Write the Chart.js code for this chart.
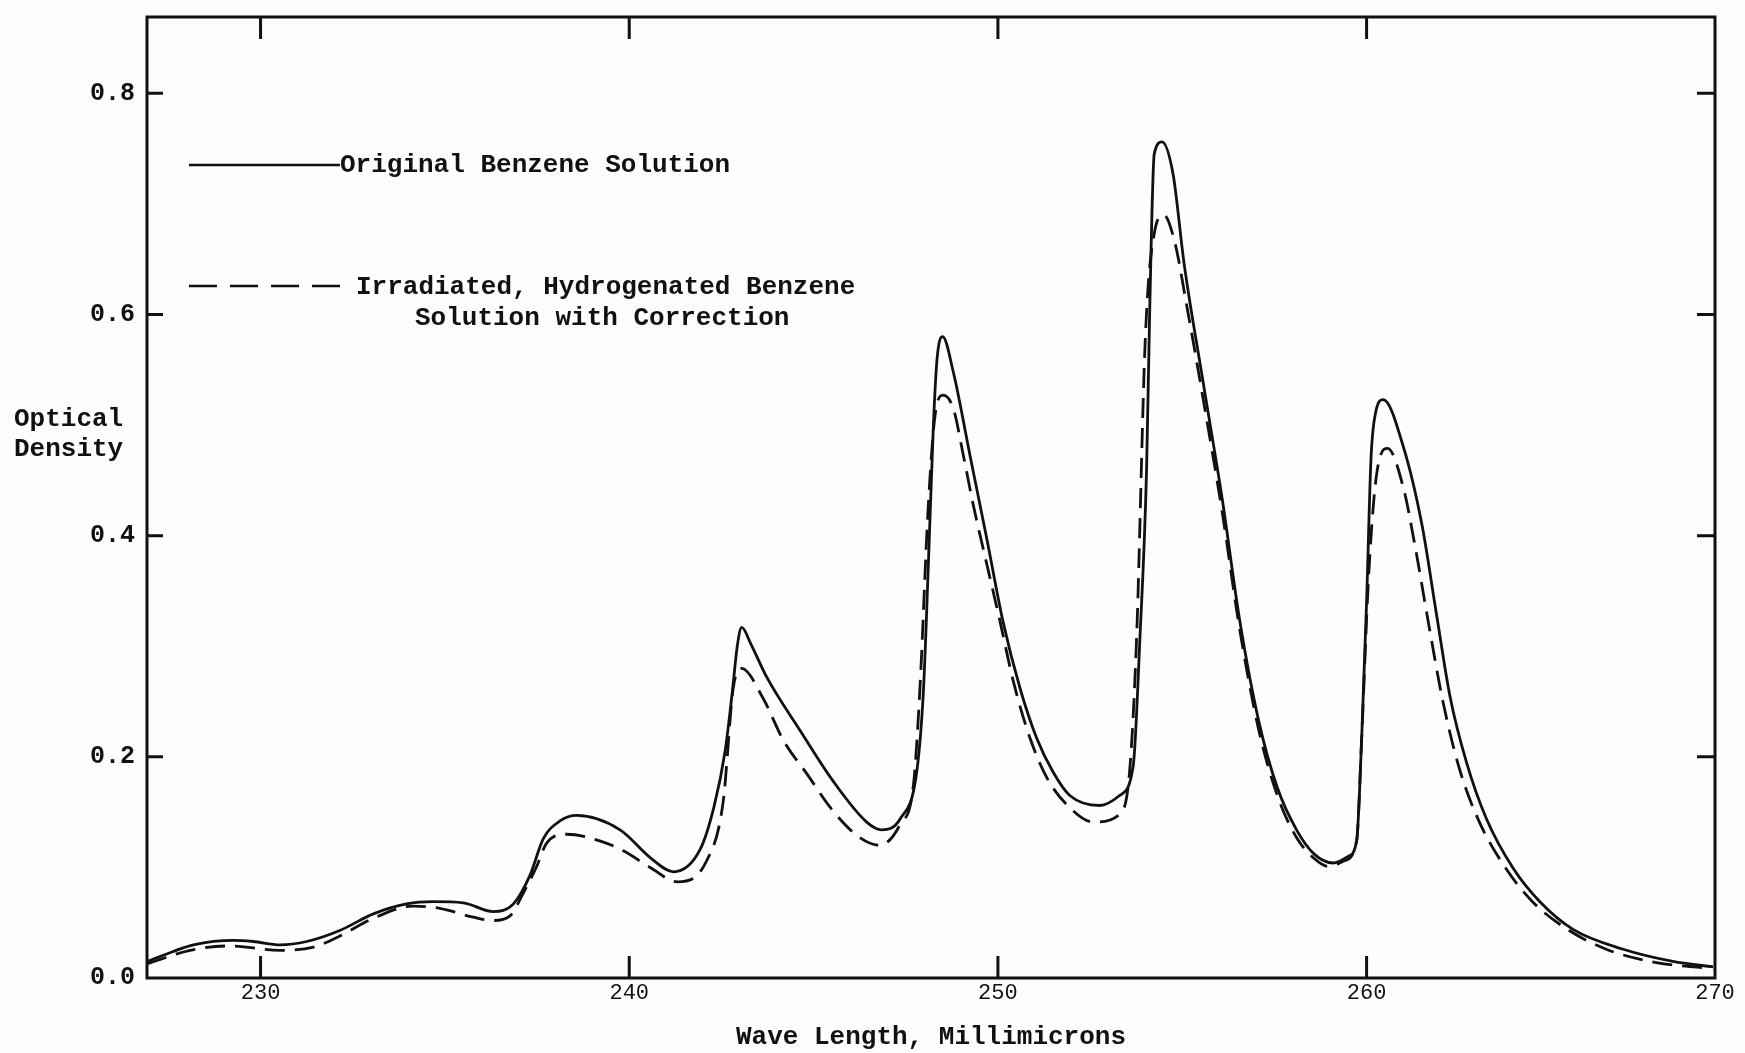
<!DOCTYPE html>
<html>
<head>
<meta charset="utf-8">
<script src="https://cdn.jsdelivr.net/npm/chart.js@4.4.1/dist/chart.umd.min.js"></script>
<style>
  html, body { margin: 0; padding: 0; background: #fdfdfd; }
  #wrap { width: 1745px; height: 1053px; }
</style>
</head>
<body>
<div id="wrap"><canvas id="myChart" width="1745" height="1053"></canvas></div>
<script>
// wave length (millimicrons) and optical density
const originalX = [226.93, 227.63, 228.18, 229.26, 229.8, 230.53, 231.25, 232.15, 233.06, 233.96, 234.69, 235.5, 236.31, 236.86, 237.31, 237.67, 238.12, 238.58, 239.75, 240.6, 241.2, 241.92, 242.3, 242.6, 242.8, 242.93, 243.05, 243.3, 243.73, 244.63, 245.53, 246.44, 246.85, 247.35, 247.8, 247.98, 248.12, 248.25, 248.35, 248.5, 248.79, 249.24, 249.7, 250.14, 250.6, 251.05, 251.5, 251.95, 252.76, 253.3, 253.67, 253.85, 254.03, 254.12, 254.24, 254.45, 254.75, 255.05, 255.56, 256.08, 256.56, 257.07, 257.58, 258.1, 258.58, 259.1, 259.5, 259.73, 259.87, 260.0, 260.12, 260.25, 260.45, 261.0, 261.5, 261.9, 262.26, 262.71, 263.25, 263.98, 264.7, 265.6, 266.96, 268.31, 269.4];
const originalY = [0.015, 0.024, 0.030, 0.034, 0.033, 0.030, 0.033, 0.043, 0.058, 0.067, 0.069, 0.068, 0.060, 0.067, 0.093, 0.126, 0.142, 0.147, 0.134, 0.108, 0.096, 0.116, 0.155, 0.205, 0.260, 0.300, 0.317, 0.302, 0.272, 0.224, 0.178, 0.141, 0.134, 0.144, 0.187, 0.260, 0.380, 0.500, 0.560, 0.580, 0.548, 0.473, 0.397, 0.322, 0.262, 0.217, 0.186, 0.165, 0.156, 0.165, 0.192, 0.306, 0.457, 0.608, 0.745, 0.756, 0.727, 0.646, 0.540, 0.434, 0.323, 0.233, 0.172, 0.134, 0.112, 0.104, 0.110, 0.124, 0.220, 0.340, 0.470, 0.512, 0.523, 0.480, 0.410, 0.328, 0.255, 0.195, 0.144, 0.099, 0.069, 0.044, 0.026, 0.015, 0.010];

const irradiatedX = [226.93, 228.09, 229.17, 230.53, 231.44, 232.15, 233.06, 234.14, 234.86, 235.77, 236.31, 236.76, 237.13, 237.49, 237.76, 238.3, 239.2, 239.84, 240.57, 241.3, 242.1, 242.55, 242.82, 243.05, 243.63, 244.18, 244.81, 245.53, 246.25, 246.79, 247.35, 247.71, 247.89, 248.1, 248.3, 248.51, 248.79, 249.06, 249.33, 249.7, 250.06, 250.42, 250.87, 251.33, 251.95, 252.59, 253.3, 253.57, 253.76, 254.0, 254.25, 254.5, 254.8, 255.1, 255.56, 256.08, 256.56, 257.07, 257.58, 258.1, 258.58, 258.95, 259.4, 259.73, 259.87, 260.05, 260.25, 260.57, 261.0, 261.29, 261.71, 262.07, 262.52, 263.06, 263.78, 264.5, 265.4, 266.5, 267.86, 269.22];
const irradiatedY = [0.013, 0.025, 0.029, 0.025, 0.028, 0.038, 0.054, 0.065, 0.063, 0.055, 0.052, 0.056, 0.077, 0.101, 0.122, 0.130, 0.124, 0.115, 0.100, 0.087, 0.106, 0.160, 0.262, 0.280, 0.253, 0.215, 0.185, 0.151, 0.127, 0.120, 0.139, 0.175, 0.265, 0.420, 0.510, 0.527, 0.515, 0.473, 0.428, 0.374, 0.322, 0.268, 0.217, 0.181, 0.154, 0.141, 0.148, 0.186, 0.306, 0.580, 0.675, 0.690, 0.665, 0.612, 0.525, 0.422, 0.315, 0.225, 0.165, 0.127, 0.108, 0.101, 0.106, 0.124, 0.220, 0.360, 0.450, 0.479, 0.443, 0.395, 0.315, 0.250, 0.189, 0.141, 0.099, 0.069, 0.045, 0.026, 0.014, 0.009];

const xTicks = [230, 240, 250, 260, 270];
const yTicks = [0.0, 0.2, 0.4, 0.6, 0.8];
const seriesNames = ['Original Benzene Solution', 'Irradiated, Hydrogenated Benzene', 'Solution with Correction'];

const FONT = '"Liberation Mono", "DejaVu Sans Mono", monospace';
const INK = '#111';

function toPoints(xs, ys) {
    let pts = [];
    for (let i = 0; i < xs.length; i += 1) {
        pts.push({ x: xs[i], y: ys[i] });
    }
    return pts;
}

// frame, inward ticks, y title and the hand-placed legend
const paperPlugin = {
    id: 'paper',
    afterDraw(chart) {
        const ctx = chart.ctx;
        const a = chart.chartArea;
        const xs = chart.scales.x;
        const ys = chart.scales.y;
        ctx.save();
        ctx.strokeStyle = INK;
        ctx.lineWidth = 3;
        ctx.strokeRect(a.left, a.top, a.right - a.left, a.bottom - a.top);

        ctx.beginPath();
        xTicks.forEach(v => {
            if (v > xs.max) return;
            const px = xs.getPixelForValue(v);
            ctx.moveTo(px, a.bottom); ctx.lineTo(px, a.bottom - 22);
            ctx.moveTo(px, a.top); ctx.lineTo(px, a.top + 22);
        });
        yTicks.forEach(v => {
            if (v === 0) return;
            const py = ys.getPixelForValue(v);
            ctx.moveTo(a.left, py); ctx.lineTo(a.left + 16, py);
            ctx.moveTo(a.right, py); ctx.lineTo(a.right - 18, py);
        });
        ctx.stroke();

        // y axis title, written flat
        ctx.fillStyle = INK;
        ctx.font = 'bold 26px ' + FONT;
        ctx.textAlign = 'left';
        ctx.textBaseline = 'middle';
        ctx.fillText('Optical', 14, 419);
        ctx.fillText('Density', 14, 449);

        // legend
        ctx.lineWidth = 2.5;
        ctx.beginPath();
        ctx.moveTo(189, 165); ctx.lineTo(340, 165);
        ctx.stroke();
        ctx.fillText(seriesNames[0], 340, 165);

        ctx.setLineDash([28, 13]);
        ctx.beginPath();
        ctx.moveTo(189, 286); ctx.lineTo(345, 286);
        ctx.stroke();
        ctx.setLineDash([]);
        ctx.fillText(seriesNames[1], 356, 287);
        ctx.fillText(seriesNames[2], 415, 318);
        ctx.restore();
    }
};

const ctx = document.getElementById('myChart').getContext('2d');
const myChart = new Chart(ctx, {
    type: 'line',
    data: {
        datasets: [{
            label: seriesNames[0],
            data: toPoints(originalX, originalY),
            borderColor: INK,
            borderWidth: 2.8,
            pointRadius: 0,
            cubicInterpolationMode: 'monotone'
        }, {
            label: seriesNames[1] + ' ' + seriesNames[2],
            data: toPoints(irradiatedX, irradiatedY),
            borderColor: INK,
            borderWidth: 2.8,
            borderDash: [20, 10],
            pointRadius: 0,
            cubicInterpolationMode: 'monotone'
        }]
    },
    options: {
        responsive: false,
        animation: false,
        layout: { padding: { top: 17, right: 30, left: 0, bottom: 0 } },
        plugins: {
            legend: { display: false },
            tooltip: { enabled: false }
        },
        scales: {
            x: {
                type: 'linear',
                min: 226.92,
                max: 269.45,
                grid: { display: false, drawTicks: false },
                border: { display: false },
                afterBuildTicks: scale => {
                    scale.ticks = xTicks.map(v => ({ value: Math.min(v, scale.max) }));
                },
                afterFit: scale => {
                    scale.height = 75;
                    scale.paddingLeft = 0;
                    scale.paddingRight = 0;
                },
                ticks: {
                    autoSkip: false,
                    maxRotation: 0,
                    padding: 2,
                    color: INK,
                    font: { family: FONT, size: 22 },
                    callback: v => String(Math.round(v / 10) * 10)
                },
                title: {
                    display: true,
                    text: 'Wave Length, Millimicrons',
                    color: INK,
                    font: { family: FONT, size: 26, weight: 'bold' },
                    padding: { top: 6, bottom: 0 }
                }
            },
            y: {
                min: 0,
                max: 0.869,
                grid: { display: false, drawTicks: false },
                border: { display: false },
                afterBuildTicks: scale => {
                    scale.ticks = yTicks.map(v => ({ value: v }));
                },
                afterFit: scale => {
                    scale.width = 147;
                    scale.paddingTop = 0;
                    scale.paddingBottom = 0;
                },
                ticks: {
                    padding: 12,
                    color: INK,
                    font: { family: FONT, size: 25, weight: 'bold' },
                    callback: v => v.toFixed(1)
                }
            }
        }
    },
    plugins: [paperPlugin]
});
</script>
</body>
</html>
